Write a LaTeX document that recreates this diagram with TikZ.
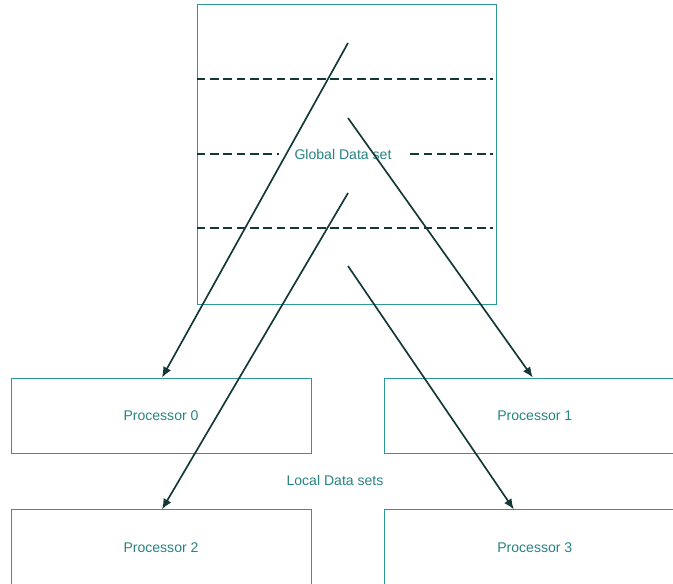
\documentclass[tikz,border=0pt]{standalone}
\usepackage{fontspec}
\setmainfont{Liberation Sans}
\usetikzlibrary{arrows.meta,positioning}
\definecolor{boxline}{RGB}{45,150,150}
\definecolor{boxtext}{RGB}{40,130,130}
\definecolor{arrowline}{RGB}{20,55,55}

\begin{document}
\begin{tikzpicture}[
    x=0.02cm, y=-0.02cm,
    proc/.style={rectangle, draw=boxline, line width=0.5pt, minimum width=6cm, minimum height=1.5cm, text=boxtext, font=\fontsize{8}{9}\selectfont},
    dataset/.style={rectangle, draw=boxline, line width=0.5pt, minimum width=5.98cm, minimum height=6cm},
    split/.style={dashed, dash pattern=on 5pt off 2.6pt, line width=0.8pt, arrowline},
    arrow/.style={-{Latex[length=6pt, width=5pt]}, line width=0.95pt, arrowline},
    node distance=1.12cm and 1.46cm
  ]
    \useasboundingbox (0,0) rectangle (673,584);

    \node[dataset] (global) at (346.5,154) {};
    \node[proc] (p0) at (161,415.5) {Processor 0};
    \node[proc, right=of p0] (p1) {Processor 1};
    \node[proc, below=of p0] (p2) {Processor 2};
    \node[proc, below=of p1] (p3) {Processor 3};

    % partitions of the global set
    \draw[split] (global.west |- 0,79) -- (493,79);
    \draw[split] (global.west |- 0,154) -- (493,154);
    \draw[split] (global.west |- 0,228) -- (493,228);
    \node[fill=white, inner xsep=0.32cm, text=boxtext, font=\fontsize{8}{9}\selectfont] (glabel) at (343,154) {Global Data set};
    \node[text=boxtext, font=\fontsize{8}{9}\selectfont] (llabel) at (335,480) {Local Data sets};

    \coordinate (s0) at (348,43);
    \coordinate (s1) at (348,118);
    \coordinate (s2) at (348,193);
    \coordinate (s3) at (348,266);

    \draw[arrow] (s0) -- ([xshift=0.02cm]p0.north);
    \draw[arrow] (s1) -- ([xshift=-0.04cm]p1.north);
    \draw[arrow] (s2) -- ([xshift=0.02cm]p2.north);
    \draw[arrow] (s3) -- ([xshift=-0.42cm]p3.north);
  \end{tikzpicture}
\end{document}
